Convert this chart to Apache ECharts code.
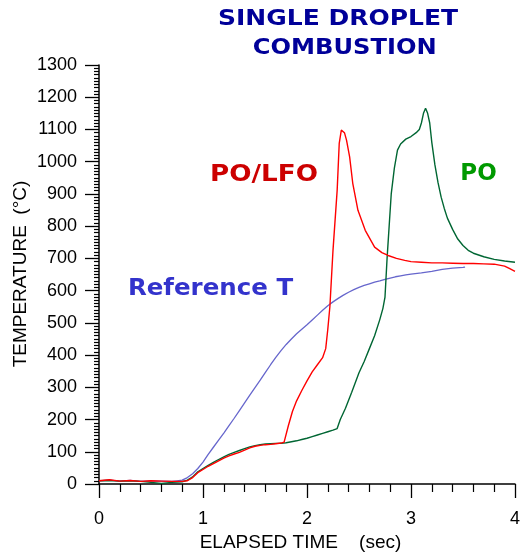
<!DOCTYPE html>
<html>
<head>
<meta charset="utf-8">
<script src="https://cdn.jsdelivr.net/npm/echarts@6/dist/echarts.min.js"></script>
<style>html,body{margin:0;padding:0;background:#fff;}#c{width:523px;height:555px;}</style>
</head>
<body>
<div id="c"></div>
<script>
// ---- data ----
const xTicks = [0, 1, 2, 3, 4];
const yTicks = [0, 100, 200, 300, 400, 500, 600, 700, 800, 900, 1000, 1100, 1200, 1300];

const refTime = [0,0.1,0.2,0.3,0.4,0.5,0.6,0.7,0.75,0.8,0.85,0.9,0.95,1.0,1.05,1.1,1.15,1.2,1.25,1.3,1.35,1.4,1.45,1.5,1.55,1.6,1.65,1.7,1.75,1.8,1.85,1.9,1.95,2.0,2.05,2.1,2.15,2.2,2.25,2.3,2.35,2.4,2.45,2.5,2.55,2.6,2.65,2.7,2.75,2.8,2.85,2.9,2.95,3.0,3.1,3.2,3.3,3.4,3.5,3.52];
const refTemp = [10,12,9,11,8,10,9,8,10,12,20,32,48,68,92,114,136,158,181,204,228,252,276,299,322,346,370,393,414,433,450,466,480,494,509,524,539,553,565,576,586,595,603,610,616,621,626,630,635,639,643,646,649,651,655,660,666,670,672,673];

const lfoTime = [0,0.1,0.2,0.3,0.4,0.5,0.6,0.7,0.8,0.85,0.9,0.95,1.0,1.05,1.1,1.15,1.2,1.25,1.3,1.35,1.4,1.45,1.5,1.55,1.6,1.65,1.7,1.75,1.78,1.82,1.86,1.9,1.95,2.0,2.05,2.1,2.15,2.18,2.2,2.22,2.25,2.29,2.31,2.33,2.345,2.36,2.38,2.41,2.44,2.49,2.56,2.65,2.72,2.78,2.86,2.94,3.0,3.1,3.2,3.3,3.4,3.5,3.6,3.7,3.8,3.9,3.95,4.0];
const lfoTemp = [10,13,9,11,8,10,9,8,8,10,20,35,45,55,63,72,80,87,93,98,105,112,117,120,122,123,125,127,130,180,225,258,290,320,348,370,392,420,480,550,725,911,1057,1098,1100,1090,1067,1015,933,849,787,735,718,709,700,694,690,688,686,686,685,684,684,683,682,676,668,660];

const poTime = [0,0.1,0.2,0.3,0.4,0.5,0.6,0.7,0.8,0.85,0.9,0.95,1.0,1.05,1.1,1.15,1.2,1.25,1.3,1.35,1.4,1.45,1.5,1.55,1.6,1.65,1.7,1.75,1.8,1.85,1.9,1.95,2.0,2.05,2.1,2.15,2.2,2.25,2.29,2.32,2.37,2.43,2.5,2.55,2.6,2.65,2.7,2.73,2.75,2.76,2.77,2.79,2.81,2.84,2.87,2.9,2.95,3.0,3.05,3.08,3.1,3.12,3.14,3.16,3.18,3.2,3.23,3.26,3.29,3.32,3.35,3.4,3.45,3.5,3.55,3.6,3.7,3.8,3.9,4.0];
const poTemp = [10,11,9,10,8,5,2,5,7,12,22,38,48,58,67,76,84,92,98,104,110,115,119,122,124,125,126,126,128,131,134,138,142,147,152,157,162,167,172,200,235,285,345,380,420,460,510,545,580,640,700,800,900,980,1036,1055,1070,1078,1090,1100,1120,1150,1166,1150,1120,1060,990,935,890,855,825,790,760,740,725,716,705,697,692,688];

const labels = [
  {text: 'PO/LFO', color: '#cc0000'},
  {text: 'PO', color: '#009900'},
  {text: 'Reference T', color: '#3333cc'}
];
const titleLines = ['SINGLE DROPLET', 'COMBUSTION'];

const zip = (a, b) => a.map((v, i) => [v, b[i]]);

const chart = echarts.init(document.getElementById('c'), null, {renderer: 'canvas'});
const bold = 'bold 23px "DejaVu Sans"';
chart.setOption({
  animation: false,
  backgroundColor: '#fff',
  textStyle: {fontFamily: 'Liberation Sans'},
  grid: {left: 99, right: 5.3, top: 65, bottom: 71, containLabel: false},
  xAxis: {
    type: 'value', min: 0, max: 4, interval: 1,
    axisLine: {show: true, lineStyle: {color: '#000', width: 1.5}},
    axisTick: {show: true, length: 14, lineStyle: {color: '#000', width: 1.3}},
    minorTick: {show: true, splitNumber: 5, length: 8, lineStyle: {color: '#000', width: 1.2}},
    splitLine: {show: false},
    axisLabel: {fontSize: 18, color: '#000', margin: 26, formatter: v => xTicks.includes(v) ? String(v) : ''}
  },
  yAxis: {
    type: 'value', min: 0, max: 1300, interval: 100,
    axisLine: {show: true, onZero: false, lineStyle: {color: '#000', width: 1.5}},
    axisTick: {show: true, length: 14, lineStyle: {color: '#000', width: 1.3}},
    minorTick: {show: true, splitNumber: 10, length: 5, lineStyle: {color: '#000', width: 1.2}},
    splitLine: {show: false},
    axisLabel: {fontSize: 18, color: '#000', margin: 22, formatter: v => yTicks.includes(v) ? String(v) : ''}
  },
  series: [
    {type: 'line', name: 'Reference T', data: zip(refTime, refTemp), showSymbol: false, lineStyle: {color: '#6666cc', width: 1.3}, z: 2},
    {type: 'line', name: 'PO', data: zip(poTime, poTemp), showSymbol: false, lineStyle: {color: '#006633', width: 1.4}, z: 3},
    {type: 'line', name: 'PO/LFO', data: zip(lfoTime, lfoTemp), showSymbol: false, lineStyle: {color: '#ff0000', width: 1.4}, z: 4}
  ],
  graphic: [
    {type: 'text', x: 338, y: 20, scaleX: 1.19, style: {text: titleLines[0], font: 'bold 21px "DejaVu Sans"', fill: '#000099', align: 'center', verticalAlign: 'middle'}},
    {type: 'text', x: 344.7, y: 49, scaleX: 1.15, style: {text: titleLines[1], font: 'bold 21px "DejaVu Sans"', fill: '#000099', align: 'center', verticalAlign: 'middle'}},
    {type: 'text', x: 264, y: 175, scaleX: 1.14, style: {text: labels[0].text, font: bold, fill: labels[0].color, align: 'center', verticalAlign: 'middle'}},
    {type: 'text', x: 478.5, y: 174, scaleX: 1.0, style: {text: labels[1].text, font: bold, fill: labels[1].color, align: 'center', verticalAlign: 'middle'}},
    {type: 'text', x: 210.5, y: 289, scaleX: 1.065, style: {text: labels[2].text, font: bold, fill: labels[2].color, align: 'center', verticalAlign: 'middle'}},
    {type: 'text', x: 20.5, y: 274, rotation: Math.PI / 2, style: {text: 'TEMPERATURE  (°C)', font: '19px "Liberation Sans"', fill: '#000', align: 'center', verticalAlign: 'middle'}},
    {type: 'text', x: 300.5, y: 543, style: {text: 'ELAPSED TIME    (sec)', font: '19px "Liberation Sans"', fill: '#000', align: 'center', verticalAlign: 'middle'}}
  ]
});
</script>
</body>
</html>
